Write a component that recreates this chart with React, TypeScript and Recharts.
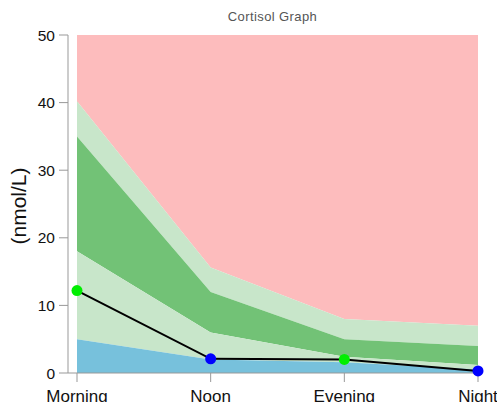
import * as React from 'react'
import { ComposedChart, Area, Line, XAxis, YAxis } from 'recharts'

const times = ['Morning', 'Noon', 'Evening', 'Night']

// upper edge of each reference band (nmol/L)
const blueTop = [5, 2, 1.6, 0.5]
const lowGreenTop = [18, 6, 2.4, 1.2]
const darkGreenTop = [35, 12, 5, 4]
const highGreenTop = [40.2, 15.6, 8, 7]
const pinkTop = [50, 50, 50, 50]

const cortisol = [12.2, 2.1, 2.0, 0.3]
const dotColors = ['#00ee00', '#0000ff', '#00ee00', '#0000ff']

const yTicks = [0, 10, 20, 30, 40, 50]

const data = times.map((t, i) => ({
  time: t,
  blue: [0, blueTop[i]],
  lowGreen: [blueTop[i], lowGreenTop[i]],
  darkGreen: [lowGreenTop[i], darkGreenTop[i]],
  highGreen: [darkGreenTop[i], highGreenTop[i]],
  pink: [highGreenTop[i], pinkTop[i]],
  value: cortisol[i],
}))

const font = '"Liberation Sans", Arial, sans-serif'

const Dot = (props: any) => {
  const { cx, cy, index } = props
  return <circle key={index} cx={cx} cy={cy} r={5.5} fill={dotColors[index]} stroke="none" />
}

export default function App() {
  return (
    <div style={{ position: 'absolute', left: 0, top: 0, width: 497, height: 402, overflow: 'hidden', fontFamily: font }}>
      <div
        style={{
          position: 'absolute',
          left: 0,
          width: 545,
          top: 9,
          textAlign: 'center',
          fontSize: 13,
          letterSpacing: 0.4,
          color: '#555',
        }}
      >
        Cortisol Graph
      </div>
      <div
        style={{
          position: 'absolute',
          left: 19,
          top: 206,
          transform: 'translate(-50%, -50%) rotate(-90deg)',
          fontSize: 21,
          color: '#111',
          whiteSpace: 'nowrap',
        }}
      >
        (nmol/L)
      </div>
      <ComposedChart
        width={497}
        height={402}
        data={data}
        margin={{ top: 35, right: 19, bottom: 0, left: 0 }}
        style={{ overflow: 'visible' }}
      >
        <XAxis
          dataKey="time"
          padding={{ left: 9, right: 0 }}
          height={29}
          tickSize={9}
          tickMargin={8}
          stroke="#999"
          tick={{ fill: '#111', fontSize: 17, fontFamily: font }}
          interval={0}
        />
        <YAxis
          width={68}
          domain={[0, 50]}
          ticks={yTicks}
          tickSize={9}
          tickMargin={4}
          stroke="#999"
          tick={{ fill: '#111', fontSize: 15.5, fontFamily: font }}
        />
        <Area type="linear" dataKey="pink" stroke="none" fill="#fdbcbd" fillOpacity={1} isAnimationActive={false} />
        <Area type="linear" dataKey="highGreen" stroke="none" fill="#c8e6ca" fillOpacity={1} isAnimationActive={false} />
        <Area type="linear" dataKey="darkGreen" stroke="none" fill="#72c276" fillOpacity={1} isAnimationActive={false} />
        <Area type="linear" dataKey="lowGreen" stroke="none" fill="#c8e6ca" fillOpacity={1} isAnimationActive={false} />
        <Area type="linear" dataKey="blue" stroke="none" fill="#77c1dc" fillOpacity={1} isAnimationActive={false} />
        <Line
          type="linear"
          dataKey="value"
          stroke="#000"
          strokeWidth={2}
          dot={<Dot />}
          activeDot={false}
          isAnimationActive={false}
        />
      </ComposedChart>
    </div>
  )
}
